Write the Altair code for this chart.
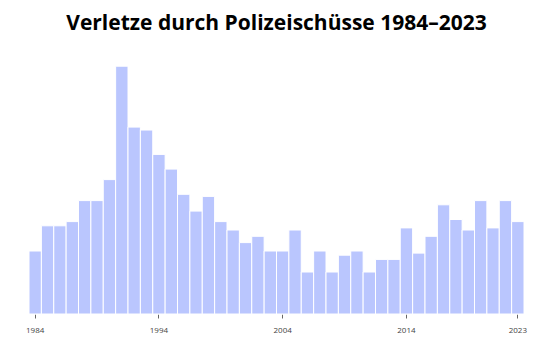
import altair as alt
import pandas as pd

years = list(range(1984, 2024))
injured = [15, 21, 21, 22, 27, 27, 32, 59, 44.5, 43.8, 38, 34.5, 28.5, 24.5, 28, 22,
           20, 17, 18.5, 15, 15, 20, 10, 15, 10, 14, 15, 10, 13, 13,
           20.5, 14.5, 18.5, 26, 22.5, 20, 27, 20.5, 27, 22]
tick_years = ["1984", "1994", "2004", "2014", "2023"]

df = pd.DataFrame({"Jahr": [str(y) for y in years], "Verletzte": injured})

label_expr = "indexof(" + str(tick_years).replace("'", "\"") + ", datum.value) >= 0 ? datum.value : ''"

chart = alt.Chart(df).mark_bar(
    color="#bac6fe", stroke="white", strokeWidth=1
).encode(
    x=alt.X("Jahr:O", sort=None, title=None,
            scale=alt.Scale(paddingInner=0, paddingOuter=0),
            axis=alt.Axis(labelAngle=0, labelExpr=label_expr, domain=False,
                          values=tick_years, tickSize=4, tickColor="#666",
                          labelFontSize=8, labelColor="#444", labelPadding=8,
                          labelFont="Open Sans")),
    y=alt.Y("Verletzte:Q", axis=None, scale=alt.Scale(domain=[0, 60], nice=False)),
).properties(
    width=495, height=252,
    title=alt.TitleParams("Verletze durch Polizeischüsse 1984–2023", font="Open Sans",
                          fontSize=21, fontWeight="bold", color="#000", anchor="middle",
                          offset=28),
    autosize=alt.AutoSizeParams(type="none"),
    padding={"left": 21, "top": 54, "right": 20, "bottom": 30},
).configure_view(stroke=None)

chart.save("out.html", embed_options={"renderer": "svg", "actions": False})
